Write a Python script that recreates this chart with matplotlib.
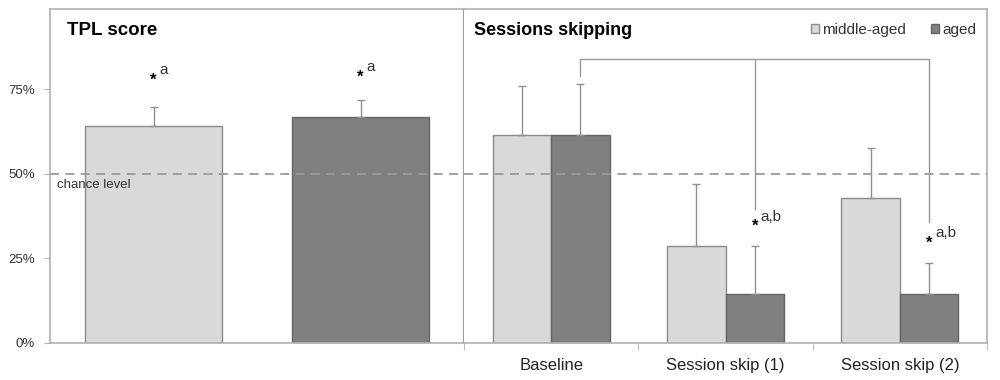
import matplotlib
matplotlib.use("Agg")
import matplotlib.pyplot as plt
import numpy as np

plt.rcParams['font.family'] = ['Liberation Sans', 'DejaVu Sans']

# ---- data ----
groups = ["middle-aged", "aged"]
tpl_values = [64.2, 66.9]
tpl_errors = [5.6, 5.0]

session_labels = ["Baseline", "Session skip (1)", "Session skip (2)"]
middle_values = [61.5, 28.7, 42.9]
middle_errors = [14.5, 18.3, 14.8]
aged_values = [61.5, 14.5, 14.5]
aged_errors = [15.1, 14.2, 9.2]

yticks = [0, 25, 50, 75]
ytick_labels = ["0%", "25%", "50%", "75%"]
chance = 50

light = "#d9d9d9"
dark = "#7f7f7f"
frame = "#b0b0b0"
errc = "#909090"

fig = plt.figure(figsize=(10, 3.8), dpi=100)
axL = fig.add_axes([0.050, 0.0974, 0.414, 0.879])
axR = fig.add_axes([0.464, 0.0974, 0.523, 0.879])

for ax in (axL, axR):
    ax.set_ylim(0, 98.8)
    for s in ax.spines.values():
        s.set_color(frame)
        s.set_linewidth(1.2)
    ax.axhline(chance, color="#9a9a9a", lw=1.3, ls=(0, (5, 3.5)), zorder=4)

# ---- left panel ----
xl = np.arange(len(groups))
axL.bar(xl, tpl_values, width=0.66, color=[light, dark],
        edgecolor=["#8c8c8c", "#666666"], lw=1, zorder=2)
axL.errorbar(xl, tpl_values, yerr=[np.zeros(len(xl)), tpl_errors], fmt="none",
             ecolor=errc, elinewidth=1, capsize=3, capthick=1, zorder=3)
axL.set_xlim(-0.5, 1.5)
axL.set_xticks([])
axL.set_yticks(yticks)
axL.set_yticklabels(ytick_labels, fontsize=9.5, color="#333333")
axL.tick_params(axis="y", length=4, color=frame, pad=7)
axL.spines['right'].set_color("#a0a0a0")
axL.spines['right'].set_linewidth(1.6)
axL.text(0.04, 0.96, "TPL score", transform=axL.transAxes, fontsize=13.5,
         fontweight="bold", va="top", ha="left")
axL.text(0.017, 46.8, "chance level", fontsize=9.5, color="#333333",
         va="center", ha="left", transform=axL.get_yaxis_transform(), zorder=5)
for xi, ys in zip(xl, [77.8, 78.7]):
    axL.text(xi, ys, "*", fontsize=12, fontweight="bold", ha="center", va="center")
    axL.text(xi + 0.03, ys + 3.0, "a", fontsize=11, ha="left", va="center", color="#333333")

# ---- right panel ----
xr = np.arange(len(session_labels))
w = 0.335
bm = axR.bar(xr - w / 2, middle_values, width=w, color=light, edgecolor="#8c8c8c",
             lw=1, zorder=2, label=groups[0])
ba = axR.bar(xr + w / 2, aged_values, width=w, color=dark, edgecolor="#666666",
             lw=1, zorder=2, label=groups[1])
axR.errorbar(xr - w / 2, middle_values, yerr=[np.zeros(3), middle_errors], fmt="none",
             ecolor=errc, elinewidth=1, capsize=3, capthick=1, zorder=3)
axR.errorbar(xr + w / 2, aged_values, yerr=[np.zeros(3), aged_errors], fmt="none",
             ecolor=errc, elinewidth=1, capsize=3, capthick=1, zorder=3)
axR.set_xlim(-0.5, 2.5)
axR.set_xticks(xr)
axR.set_xticklabels(session_labels, fontsize=12, color="#222222")
axR.set_xticks([-0.5, 0.5, 1.5, 2.5], minor=True)
axR.tick_params(axis="x", which="major", length=0, pad=11)
axR.tick_params(axis="x", which="minor", length=5, color=frame)
axR.set_yticks([])
axR.spines['left'].set_visible(False)
axR.text(0.02, 0.96, "Sessions skipping", transform=axR.transAxes, fontsize=13,
         fontweight="bold", va="top", ha="left")
leg = axR.legend(handles=[bm, ba], loc="upper right", bbox_to_anchor=(1.0, 0.99),
                 ncol=2, frameon=False, fontsize=11, handlelength=0.55, handleheight=0.55,
                 handletextpad=0.2, columnspacing=1.6, borderaxespad=0.3)
for t in leg.get_texts():
    t.set_color("#333333")

# bracket
bx0 = xr[0] + w / 2
bx1 = xr[1] + w / 2
bx2 = xr[2] + w / 2
top = 84
bc = "#9a9a9a"
axR.plot([bx0, bx0, bx2, bx2], [79, top, top, 35.8], color=bc, lw=1, zorder=3)
axR.plot([bx1, bx1], [top, 39.6], color=bc, lw=1, zorder=3)

for xi, ys in [(bx1, 34.6), (bx2, 29.6)]:
    axR.text(xi, ys, "*", fontsize=12, fontweight="bold", ha="center", va="center")
    axR.text(xi + 0.035, ys + 2.8, "a,b", fontsize=11, ha="left", va="center", color="#333333")

fig.savefig("out.png", dpi=100)
